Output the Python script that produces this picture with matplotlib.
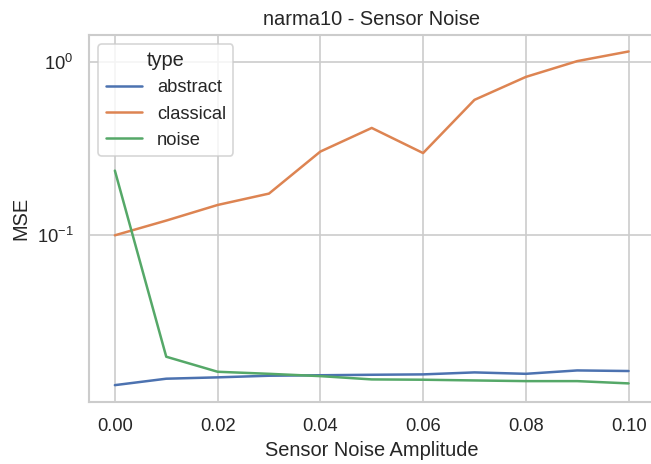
import matplotlib
matplotlib.use("Agg")
import matplotlib.pyplot as plt
import seaborn as sns
import pandas as pd

amplitudes = [0.0, 0.01, 0.02, 0.03, 0.04, 0.05, 0.06, 0.07, 0.08, 0.09, 0.1]

abstract = [0.01368, 0.0149, 0.01517, 0.0155, 0.0156, 0.0157, 0.01578, 0.0162, 0.0159, 0.01663, 0.0165]
classical = [0.1, 0.1216, 0.1496, 0.174, 0.304, 0.416, 0.298, 0.604, 0.819, 1.01, 1.148]
noise = [0.236, 0.01995, 0.01634, 0.0159, 0.01542, 0.01476, 0.0147, 0.01456, 0.01443, 0.01443, 0.014]

types = ["abstract", "classical", "noise"]

rows = []
for name, values in zip(types, [abstract, classical, noise]):
    for a, v in zip(amplitudes, values):
        rows.append({"Sensor Noise Amplitude": a, "MSE": v, "type": name})
df = pd.DataFrame(rows)

sns.set_theme(style="whitegrid")
plt.rcParams["font.family"] = ["Liberation Sans", "DejaVu Sans"]

fig = plt.figure(figsize=(651 / 120, 464 / 120), dpi=120)
# right edge of the axes runs just past the image, like the reference
ax = fig.add_axes([0.137, 0.134, 0.868, 0.791])
sns.lineplot(data=df, x="Sensor Noise Amplitude", y="MSE", hue="type", ax=ax)
ax.set_yscale("log")
ax.set_title("narma10 - Sensor Noise")
ax.legend(title="type", loc="upper left")

fig.savefig("out.png", dpi=120)
